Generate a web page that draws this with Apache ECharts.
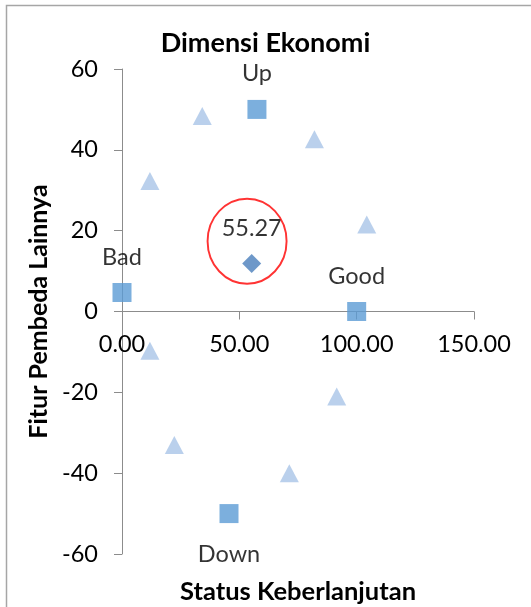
<!DOCTYPE html>
<html>
<head>
<meta charset="utf-8">
<script src="https://cdn.jsdelivr.net/npm/echarts@6/dist/echarts.min.js"></script>
<style>html,body{margin:0;padding:0;background:#fff}#c{width:531px;height:607px}</style>
</head>
<body>
<div id="c"></div>
<script>
// Reference points (squares)
const refX = [0, 100, 57.5, 45.6];
const refY = [4.7, 0, 50, -50];
const refLabels = ['Bad', 'Good', 'Up', 'Down'];
// Anchor points (triangles)
const anchorX = [34.2, 11.9, 82.0, 104.3, 11.9, 91.5, 22.3, 71.3];
const anchorY = [48.4, 32.3, 42.6, 21.5, -9.7, -21.0, -33.0, -40.0];
// Status point (diamond)
const statusX = [55.27];
const statusY = [11.9];
// Highlight circle around status
const highlightX = [53.3];
const highlightY = [17.4];
// Axis ticks
const xTicks = [0, 50, 100, 150];
const yTicks = [-60, -40, -20, 0, 20, 40, 60];

const FONT = 'Lato';
const LBL = 23.5;
const GRID_TOP = 69, GRID_BOTTOM = 53, H = 607;
const plotH = H - GRID_TOP - GRID_BOTTOM;
// x axis line crosses the y axis at value 0
const zeroOffset = -plotH * (0 - yTicks[0]) / (yTicks[yTicks.length - 1] - yTicks[0]);

const chart = echarts.init(document.getElementById('c'));
const refData = refX.map((x, i) => ({
  value: [x, refY[i]],
  name: refLabels[i],
  label: {
    show: true,
    position: refLabels[i] === 'Down' ? 'bottom' : 'top',
    distance: refLabels[i] === 'Down' ? 19 : 14,
    formatter: refLabels[i]
  }
}));

chart.setOption({
  animation: false,
  textStyle: { fontFamily: FONT },
  title: {
    text: 'Dimensi Ekonomi',
    left: 'center',
    top: 30,
    padding: 0,
    textStyle: { fontFamily: FONT, fontWeight: 'bold', fontSize: 27, color: '#000' }
  },
  graphic: [
    { type: 'rect', shape: { x: 6.5, y: 5.5, width: 700, height: 800 }, style: { fill: 'none', stroke: '#a6a6a6', lineWidth: 1.5 }, silent: true },
    { type: 'text', x: 298, y: 592, style: { text: 'Status Keberlanjutan', font: 'bold 25.5px Lato', fill: '#000', textAlign: 'center', textVerticalAlign: 'middle' }, silent: true }
  ],
  grid: { left: 122, right: 57, top: GRID_TOP, bottom: GRID_BOTTOM, containLabel: false },
  xAxis: {
    type: 'value',
    min: xTicks[0], max: xTicks[xTicks.length - 1], interval: 50,
    position: 'bottom',
    offset: zeroOffset,
    axisLine: { show: true, onZero: false, lineStyle: { color: '#8c8c8c', width: 1 } },
    axisTick: { show: true, inside: false, length: 8, lineStyle: { color: '#8c8c8c' } },
    axisLabel: { margin: 21, fontSize: LBL, color: '#000', fontFamily: FONT, formatter: v => v.toFixed(2) },
    splitLine: { show: false }
  },
  yAxis: {
    type: 'value',
    min: yTicks[0], max: yTicks[yTicks.length - 1], interval: 20,
    name: 'Fitur Pembeda Lainnya',
    nameLocation: 'middle',
    nameGap: 69,
    nameTextStyle: { fontFamily: FONT, fontWeight: 'bold', fontSize: 25, color: '#000' },
    axisLine: { show: true, onZero: false, lineStyle: { color: '#8c8c8c', width: 1 } },
    axisTick: { show: true, inside: false, length: 8, lineStyle: { color: '#8c8c8c' } },
    axisLabel: { margin: 24, fontSize: LBL, color: '#000', fontFamily: FONT },
    splitLine: { show: false }
  },
  series: [
    {
      type: 'scatter',
      symbol: 'triangle',
      symbolSize: [19, 18],
      itemStyle: { color: '#a9c4e7' },
      data: anchorX.map((x, i) => [x, anchorY[i]]),
      z: 2
    },
    {
      type: 'scatter',
      symbol: 'rect',
      symbolSize: 19,
      itemStyle: { color: '#5b9bd5' },
      label: { fontSize: LBL, color: '#000', fontFamily: FONT },
      data: refData,
      z: 3
    },
    {
      type: 'scatter',
      symbol: 'diamond',
      symbolSize: 19,
      itemStyle: { color: '#4a7ebb' },
      label: { show: true, position: 'top', distance: 13, fontSize: LBL, color: '#000', fontFamily: FONT, formatter: p => p.value[0].toFixed(2) },
      data: statusX.map((x, i) => [x, statusY[i]]),
      z: 4
    },
    {
      type: 'scatter',
      symbol: 'circle',
      symbolSize: [79, 85],
      silent: true,
      itemStyle: { color: 'rgba(0,0,0,0)', borderColor: '#ff0000', borderWidth: 2 },
      data: highlightX.map((x, i) => [x, highlightY[i]]),
      z: 5
    }
  ]
});
</script>
</body>
</html>
